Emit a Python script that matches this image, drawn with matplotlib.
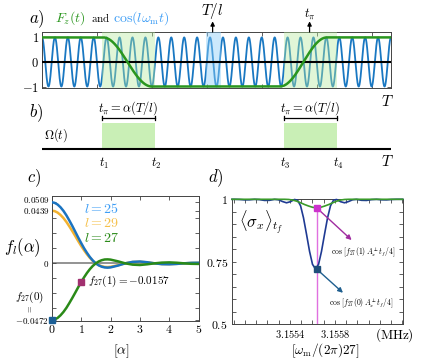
import numpy as np
import matplotlib
matplotlib.use("Agg")
import matplotlib.pyplot as plt
from matplotlib.patches import Rectangle

plt.rcParams["mathtext.fontset"] = "cm"
plt.rcParams["font.family"] = ["DejaVu Serif"]

W, H = 436, 364

# ---------------- data ----------------
# panels a/b : time measured in units of T/l
l_a = 27
pulse_start = [4.66, 18.70]
pulse_end = [8.72, 22.79]
fz_ramp_start = [4.72, 18.40]
fz_ramp_end = [8.50, 22.05]
tl_window = [12.68, 13.84]
tl_marker = 13.2
tpi_marker = 20.7
a_xticks = [0, 4.25, 8.5, 12.75, 17.0, 21.25, 25.5]
a_yticks = [-1, 0, 1]
a_yticklabels = [r"$-1$", r"$0$", r"$1$"]
pulse_labels = [r"$t_1$", r"$t_2$", r"$t_3$", r"$t_4$"]

# panel c : f_l(alpha)
alpha = [0, 0.1, 0.2, 0.3, 0.4, 0.5, 0.6, 0.7, 0.8, 0.9, 1.0, 1.1, 1.2, 1.3,
         1.4, 1.5, 1.6, 1.7, 1.8, 1.9, 2.0, 2.25, 2.5, 2.75, 3.0, 3.25, 3.5,
         3.75, 4.0, 4.25, 4.5, 4.75, 5.0]
f_l25 = [0.0509, 0.0504, 0.0490, 0.0467, 0.0437, 0.0400, 0.0357, 0.0312,
         0.0264, 0.0216, 0.0170, 0.0126, 0.0087, 0.0052, 0.0023, 0.0,
         -0.0017, -0.0028, -0.0034, -0.0036, -0.0034, -0.0019, 0.0, 0.0012,
         0.0015, 0.0009, 0.0, -0.0007, -0.0008, -0.0005, 0.0, 0.0004, 0.0005]
f_l29 = [0.0439, 0.0435, 0.0423, 0.0403, 0.0377, 0.0345, 0.0308, 0.0269,
         0.0228, 0.0186, 0.0146, 0.0109, 0.0075, 0.0045, 0.0020, 0.0,
         -0.0015, -0.0024, -0.0030, -0.0031, -0.0029, -0.0016, 0.0, 0.0011,
         0.0013, 0.0008, 0.0, -0.0006, -0.0007, -0.0004, 0.0, 0.0003, 0.0004]
f_l27 = [-0.0472, -0.0468, -0.0455, -0.0433, -0.0405, -0.0371, -0.0331,
         -0.0289, -0.0245, -0.0200, -0.0157, -0.0117, -0.0080, -0.0048,
         -0.0021, 0.0, 0.0016, 0.0026, 0.0032, 0.0033, 0.0031, 0.0017, 0.0,
         -0.0011, -0.0014, -0.0008, 0.0, 0.0006, 0.0008, 0.0005, 0.0,
         -0.0004, -0.0005]
c_yticks = [-0.0472, 0, 0.0439, 0.0509]
c_yticklabels = [r"$-0.0472$", r"$0$", r"$0.0439$", r"$0.0509$"]
c_yminor = [-0.0375, -0.025, -0.0125, 0.0125, 0.025, 0.0375]
c_xticks = [0, 1, 2, 3, 4, 5]

# panel d : <sigma_x>_tf vs drive frequency (MHz)
d_blue_center = 3.155627
d_line_center = 3.155637
blue_det_hz = [0, 27, 53, 80, 107, 133, 160, 187, 222, 258, 293, 329, 364,
               409, 453, 498, 542, 587, 631, 676, 720, 900]
blue_val = [0.721, 0.740, 0.7915, 0.860, 0.926, 0.974, 0.9965, 0.9993,
            0.9905, 0.986, 0.991, 0.998, 0.9998, 0.996, 0.9955, 0.9987,
            0.9999, 0.998, 0.9977, 0.9993, 1.0, 1.0]
green_det_hz = [0, 36, 71, 107, 142, 178, 213, 249, 284, 356, 900]
green_val = [0.966, 0.968, 0.973, 0.979, 0.986, 0.9925, 0.997, 0.9993,
             1.0, 1.0, 1.0]
d_xlim = [3.1548844, 3.156402]
d_xticks = [3.1554, 3.1558]
d_xticklabels = [r"$3.1554$", r"$3.1558$"]
d_xminor = [3.1549, 3.1550, 3.1551, 3.1552, 3.1553, 3.1555, 3.1556, 3.1557,
            3.1559, 3.1560, 3.1561, 3.1562, 3.1563, 3.1564]
d_yticks = [0.5, 0.75, 1.0]
d_yticklabels = [r"$0.5$", r"$0.75$", r"$1$"]
d_yminor = [0.55, 0.6, 0.65, 0.7, 0.8, 0.85, 0.9, 0.95]
sq_pink_y = 0.966
sq_blue_y = 0.721

# ---------------- figure ----------------
fig = plt.figure(figsize=(W / 100, H / 100), dpi=100)


def add_ax(x0, y0, x1, y1):
    return fig.add_axes([x0 / W, 1 - y1 / H, (x1 - x0) / W, (y1 - y0) / H])


def T(x, y, s, **kw):
    kw.setdefault("ha", "center")
    kw.setdefault("va", "center")
    return fig.text(x / W, 1 - y / H, s, **kw)


spine_col = "#444444"

# ---- panel a ----
axa = add_ax(42, 32, 391, 88)
axa.set_xlim(0, l_a)
axa.set_ylim(-1.06, 1.22)
t = np.linspace(0, l_a, 5000)
axa.plot(t, np.cos(2 * np.pi * t), color="#1a78c2", lw=1.3, zorder=2)
for s, e in zip(pulse_start, pulse_end):
    axa.axvspan(s, e, color="#b5ea9c", alpha=0.4, lw=0, zorder=3)
axa.axvspan(tl_window[0], tl_window[1], color="#8fd0fa", alpha=0.45, lw=0,
            zorder=3)
axa.axhline(0, color="k", lw=1.5, zorder=4)
fz = np.ones_like(t)
level = 1.0
for s, e in zip(fz_ramp_start, fz_ramp_end):
    ramp = (t >= s) & (t <= e)
    fz[ramp] = level * np.cos(np.pi * (t[ramp] - s) / (e - s))
    fz[t > e] = -level
    level = -level
axa.plot(t, fz, color="#2a961e", lw=1.8, zorder=5)
axa.set_xticks(a_xticks)
axa.set_xticklabels([])
axa.set_yticks(a_yticks, labels=a_yticklabels)
axa.tick_params(direction="in", top=True, right=True, length=3, width=0.6,
                labelsize=9, pad=2, colors=spine_col, labelcolor="k")
for sp in axa.spines.values():
    sp.set_color(spine_col)
    sp.set_linewidth(0.7)
for xm in [tl_marker, tpi_marker]:
    axa.annotate("", xy=(xm, 1.19), xycoords=("data", "axes fraction"),
                 xytext=(xm, 1.0), textcoords=("data", "axes fraction"),
                 arrowprops=dict(arrowstyle="-|>", color="k", lw=0.9,
                                 mutation_scale=6, shrinkA=0, shrinkB=0))
axa.text(tl_marker, 1.38, r"$T/l$", transform=axa.get_xaxis_transform(),
         ha="center", va="center", fontsize=11)
axa.text(tpi_marker, 1.31, r"$t_\pi$", transform=axa.get_xaxis_transform(),
         ha="center", va="center", fontsize=9)

T(37, 19, r"$a)$", fontsize=12)
T(55, 22, r"$F_z(t)$", color="#2a961e", fontsize=10, ha="left", va="baseline")
T(91, 22, r"$\mathrm{and}$", color="k", fontsize=8, ha="left", va="baseline")
T(113, 22, r"$\cos(l\omega_{\mathrm{m}}t)$", color="#3f9ef5", fontsize=10,
  ha="left", va="baseline")
T(387, 102, r"$T$", fontsize=11)

# ---- panel b ----
axb = add_ax(42, 95, 391, 175)
axb.set_xlim(0, l_a)
axb.set_ylim(175, 95)
axb.axis("off")
axb.axhline(149, color="k", lw=1.5)
for s, e in zip(pulse_start, pulse_end):
    axb.add_patch(Rectangle((s, 123), e - s, 26, facecolor="#c9efb6",
                            edgecolor="none"))
    axb.plot([s, e], [118.3, 118.3], color="k", lw=0.9)
    axb.plot([s, s], [116.3, 120.3], color="k", lw=0.9)
    axb.plot([e, e], [116.3, 120.3], color="k", lw=0.9)
    axb.text((s + e) / 2, 108, r"$t_\pi=\alpha(T/l)$", ha="center",
             va="center", fontsize=9)
edges = [pulse_start[0], pulse_end[0], pulse_start[1], pulse_end[1]]
for xe, lab in zip(edges, pulse_labels):
    axb.text(xe + 0.15, 163, lab, ha="center", va="center", fontsize=9)
T(36, 113, r"$b)$", fontsize=12)
T(56, 135, r"$\Omega(t)$", fontsize=9)
T(387, 162, r"$T$", fontsize=11)

# ---- panel c ----
axc = add_ax(51.7, 196, 198.7, 320.7)
axc.set_xlim(0, 5)
axc.set_ylim(-0.0478, 0.0561)
axc.axhline(0, color="#808080", lw=1.2, zorder=1)
axc.plot(alpha, f_l29, color="#f2b230", lw=1.8, zorder=2)
axc.plot(alpha, f_l25, color="#1a73c0", lw=1.8, zorder=3)
axc.plot(alpha, f_l27, color="#2a8a18", lw=1.8, zorder=4)
axc.plot([alpha[0]], [f_l27[0]], "s", color="#1b5f96", ms=4.5, clip_on=False,
         zorder=6)
axc.plot([alpha[10]], [f_l27[10]], "s", color="#a1306f", ms=4.5, zorder=6)
axc.set_xticks(c_xticks, labels=[r"$%d$" % v for v in c_xticks])
# the two top labels are set by hand (slightly spread) to keep them legible
axc.set_yticks(c_yticks, labels=c_yticklabels[:2] + ["", ""])
axc.set_yticks(c_yminor, minor=True)
axc.tick_params(which="both", direction="in", top=True, right=True, length=3,
                width=0.6, colors=spine_col, labelcolor="k")
axc.tick_params(axis="y", labelsize=6.5, pad=2)
axc.tick_params(axis="x", labelsize=8.5, pad=2)
for sp in axc.spines.values():
    sp.set_color(spine_col)
    sp.set_linewidth(0.7)
T(49.5, 199.8, c_yticklabels[3], fontsize=6.5, ha="right")
T(49.5, 211.2, c_yticklabels[2], fontsize=6.5, ha="right")
T(34, 178, r"$c)$", fontsize=12)
T(22, 248, r"$f_l(\alpha)$", fontsize=12)
T(84, 209, r"$l=25$", color="#3d9df5", fontsize=10, ha="left")
T(84, 223, r"$l=29$", color="#f5c04a", fontsize=10, ha="left")
T(84, 238, r"$l=27$", color="#2a8a18", fontsize=10, ha="left")
T(88, 281, r"$f_{27}(1)=-0.0157$", fontsize=8, ha="left")
T(30, 297, r"$f_{27}(0)$", fontsize=8)
T(30, 309, r"$=$", fontsize=6, rotation=90)
T(121, 351, r"$[\alpha]$", fontsize=10)

# ---- panel d ----
axd = add_ax(232, 199.3, 402.7, 324.3)
axd.set_xlim(*d_xlim)
axd.set_ylim(0.5, 1.0)


def mirror(center, det_hz, vals):
    det = np.array(det_hz) * 1e-6
    f = np.concatenate([center - det[::-1], center + det[1:]])
    v = np.concatenate([np.array(vals)[::-1], np.array(vals)[1:]])
    return np.clip(f, d_xlim[0], d_xlim[1]), v


fb, vb = mirror(d_blue_center, blue_det_hz, blue_val)
fg, vg = mirror(d_line_center, green_det_hz, green_val)
axd.plot(fb, vb, color="#1f3a93", lw=1.2, clip_on=False, zorder=3)
axd.plot(fg, vg, color="#3a9a2a", lw=1.2, clip_on=False, zorder=4)
axd.plot([d_line_center, d_line_center], [0.5, sq_pink_y], color="#e070e0",
         lw=1.0, zorder=2)
axd.plot([d_line_center], [sq_pink_y], "s", color="#cc33cc", ms=4, zorder=6)
axd.plot([d_line_center], [sq_blue_y], "s", color="#1f4f7a", ms=4.5, zorder=6)
axd.annotate("", xy=(3.155948, 0.837), xytext=(d_line_center, sq_pink_y),
             arrowprops=dict(arrowstyle="-|>", color="#a02ca0", lw=1.0,
                             mutation_scale=7, shrinkA=2, shrinkB=0))
axd.annotate("", xy=(3.155871, 0.626), xytext=(d_line_center, sq_blue_y),
             arrowprops=dict(arrowstyle="-|>", color="#1f5f8f", lw=1.0,
                             mutation_scale=7, shrinkA=2, shrinkB=0))
axd.set_xticks(d_xticks, labels=d_xticklabels)
axd.set_xticks(d_xminor, minor=True)
axd.set_yticks(d_yticks, labels=d_yticklabels)
axd.set_yticks(d_yminor, minor=True)
axd.tick_params(which="both", direction="in", top=True, right=True, length=3,
                width=0.6, colors=spine_col, labelcolor="k")
axd.tick_params(axis="y", labelsize=8.5, pad=3)
axd.tick_params(axis="x", labelsize=7.5, pad=3)
for sp in axd.spines.values():
    sp.set_color(spine_col)
    sp.set_linewidth(0.7)
T(216, 178, r"$d)$", fontsize=12)
T(261, 223, r"$\langle\sigma_x\rangle_{t_f}$", fontsize=12)
T(363, 252, r"$\cos\,[f_{27}(1)\,A_x^{\perp}t_f/4]$", fontsize=5.5)
T(361, 303, r"$\cos\,[f_{27}(0)\,A_x^{\perp}t_f/4]$", fontsize=5.5)
T(394, 335, r"$(\mathrm{MHz})$", fontsize=9.5)
T(325, 351, r"$[\omega_{\mathrm{m}}/(2\pi)27]$", fontsize=9.5)

fig.savefig("out.png", dpi=100)
